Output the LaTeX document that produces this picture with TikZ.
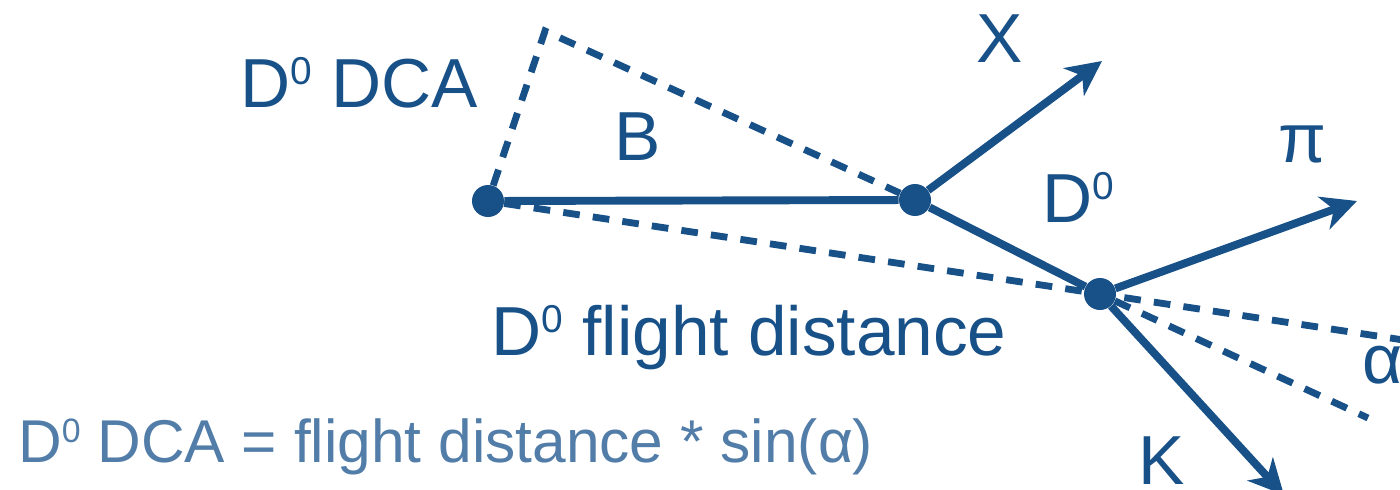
\documentclass[tikz,border=0pt]{standalone}
\usepackage{graphicx}
\usepackage{fontspec}
\setmainfont{Liberation Sans}
\usetikzlibrary{arrows.meta}
\definecolor{trackblue}{RGB}{24,80,136}
\definecolor{noteblue}{RGB}{82,125,168}
\newcommand{\Dzero}{D\raisebox{0.33em}{\scalebox{0.56}{0}}}

\begin{document}
\begin{tikzpicture}[x=0.02cm, y=-0.02cm,
  track/.style={line width=4.5pt, draw=trackblue},
  guide/.style={line width=3.9pt, draw=trackblue, dash pattern=on 9.5pt off 7.5pt},
  decay/.style={track, -{Stealth[length=20pt,width=19.5pt,inset=6pt]}},
  vtx/.style={circle, fill=trackblue, minimum size=0.64cm, inner sep=0pt},
  lbl/.style={text=trackblue, inner sep=0pt, font=\fontsize{39.5}{44}\selectfont},
  note/.style={text=noteblue, inner sep=0pt, font=\fontsize{34.4}{40}\selectfont}]
  \clip (0,0) rectangle (1400,490);

  % vertices: primary, B decay, D0 decay
  \node[vtx] (pv) at (488,201) {};
  \node[vtx] (bv) at (915,200) {};
  \node[vtx] (dv) at (1100,294) {};

  \coordinate (dcacorner) at (545,31);
  \coordinate (flightend) at (1410,341);
  \coordinate (alphaend) at (1368,418);
  \coordinate (xend) at (1102,61);
  \coordinate (piend) at (1357,201);
  \coordinate (kend) at (1284,495);

  % dashed construction lines
  \draw[guide] (pv) -- (dcacorner) -- (bv);
  \draw[guide] (pv) -- (flightend);
  \draw[guide] (dv) -- (alphaend);

  % tracks
  \draw[track] (pv) -- (bv) -- (dv);
  \draw[decay] (bv) -- (xend);
  \draw[decay] (dv) -- (piend);
  \draw[decay] (dv) -- (kend);

  \node[lbl, anchor=base] (dcalbl) at (359,107) {\Dzero{} DCA};
  \node[lbl, anchor=base] (blbl) at (638,160) {B};
  \node[lbl, anchor=base] (xlbl) at (1000,62) {X};
  \node[lbl, anchor=base] (pilbl) at (1302,162) {π};
  \node[lbl, anchor=base] (dlbl) at (1078,222) {\Dzero};
  \node[lbl, anchor=base] (flbl) at (749,355) {\Dzero{} flight distance};
  \node[lbl, anchor=base] (klbl) at (1162,484) {K};
  \node[lbl, anchor=base west] (albl) at (1362,383) {α};
  \node[note, anchor=base west] (formula) at (18,462) {\Dzero{} DCA = flight distance * sin(α)};
\end{tikzpicture}
\end{document}
